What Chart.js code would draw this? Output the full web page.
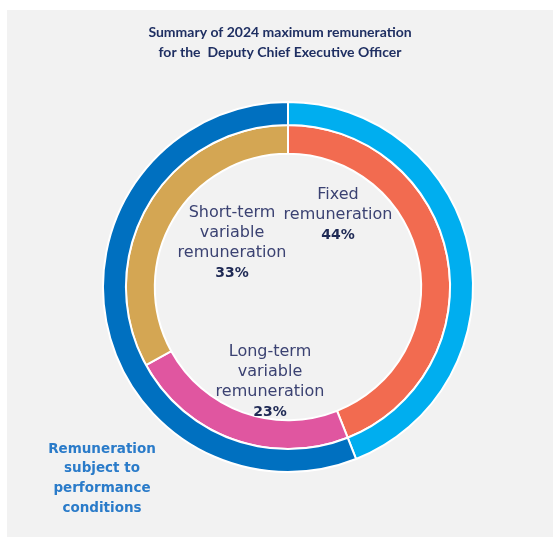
<!DOCTYPE html>
<html>
<head>
<meta charset="utf-8">
<script src="https://cdn.jsdelivr.net/npm/chart.js@4.4.1/dist/chart.umd.min.js"></script>
<style>
  html, body { margin: 0; padding: 0; background: #ffffff; }
  #wrap { position: relative; width: 553px; height: 539px; overflow: hidden; }
  #panel { position: absolute; left: 7px; top: 10px; width: 546px; height: 527px; background: #f2f2f2; }
  #c { position: absolute; left: 0; top: 0; }
</style>
</head>
<body>
<div id="wrap">
  <div id="panel"></div>
  <canvas id="c" width="553" height="539"></canvas>
</div>
<script>
// ---- data ----
const titleLines = ['Summary of 2024 maximum remuneration', 'for the  Deputy Chief Executive Officer'];
const outerCategories = ['Fixed remuneration', 'Remuneration subject to performance conditions'];
const outerValues = [44, 56];
const outerColors = ['#00aeef', '#0070c0'];
const innerCategories = ['Fixed remuneration', 'Long-term variable remuneration', 'Short-term variable remuneration'];
const innerValues = [44, 23, 33];
const innerColors = ['#f26b50', '#e056a0', '#d4a653'];
const innerLabelLines = [['Fixed', 'remuneration'], ['Long-term', 'variable', 'remuneration'], ['Short-term', 'variable', 'remuneration']];
const outerNoteLines = ['Remuneration', 'subject to', 'performance', 'conditions'];

// label anchor offsets from chart centre (layout only)
const innerLabelPos = [{dx: 50, dy: -92}, {dx: -18, dy: 65}, {dx: -56, dy: -74}];
const notePos = {dx: -186, dy: 162};

const textPlugin = {
  id: 'texts',
  afterDraw(chart) {
    const ctx = chart.ctx;
    const meta = chart.getDatasetMeta(0).data[0];
    const cx = meta.x, cy = meta.y;
    ctx.save();
    ctx.textAlign = 'center';
    ctx.textBaseline = 'middle';
    // title
    ctx.fillStyle = '#1f2f62';
    ctx.font = 'bold 14px Lato, "Open Sans", sans-serif';
    ctx.fillText(titleLines[0], 280, 32);
    ctx.fillText(titleLines[1], 280, 52);
    // inner labels
    innerLabelLines.forEach((lines, i) => {
      const p = innerLabelPos[i];
      let y = cy + p.dy;
      ctx.fillStyle = '#3b4272';
      ctx.font = '16px "DejaVu Sans", sans-serif';
      lines.forEach(l => { ctx.fillText(l, cx + p.dx, y); y += 20; });
      ctx.fillStyle = '#1f2a55';
      ctx.font = 'bold 14px "DejaVu Sans", sans-serif';
      ctx.fillText(innerValues[i] + '%', cx + p.dx, y);
    });
    // outer note
    ctx.fillStyle = '#2a7bc9';
    ctx.font = 'bold 13.5px "DejaVu Sans", sans-serif';
    let y = cy + notePos.dy;
    outerNoteLines.forEach(l => { ctx.fillText(l, cx + notePos.dx, y); y += 19.7; });
    ctx.restore();
  }
};

new Chart(document.getElementById('c'), {
  type: 'doughnut',
  data: {
    labels: innerCategories,
    datasets: [
      { label: 'Outer', data: outerValues, backgroundColor: outerColors, borderColor: '#ffffff', borderWidth: 2, weight: 23 },
      { label: 'Inner', data: innerValues, backgroundColor: innerColors, borderColor: '#ffffff', borderWidth: 2, weight: 29 }
    ]
  },
  options: {
    responsive: false,
    animation: false,
    cutout: '72%',
    layout: { padding: { left: 102, right: 79, top: 101, bottom: 66 } },
    plugins: { legend: { display: false }, tooltip: { enabled: false }, title: { display: false } }
  },
  plugins: [textPlugin]
});
</script>
</body>
</html>
